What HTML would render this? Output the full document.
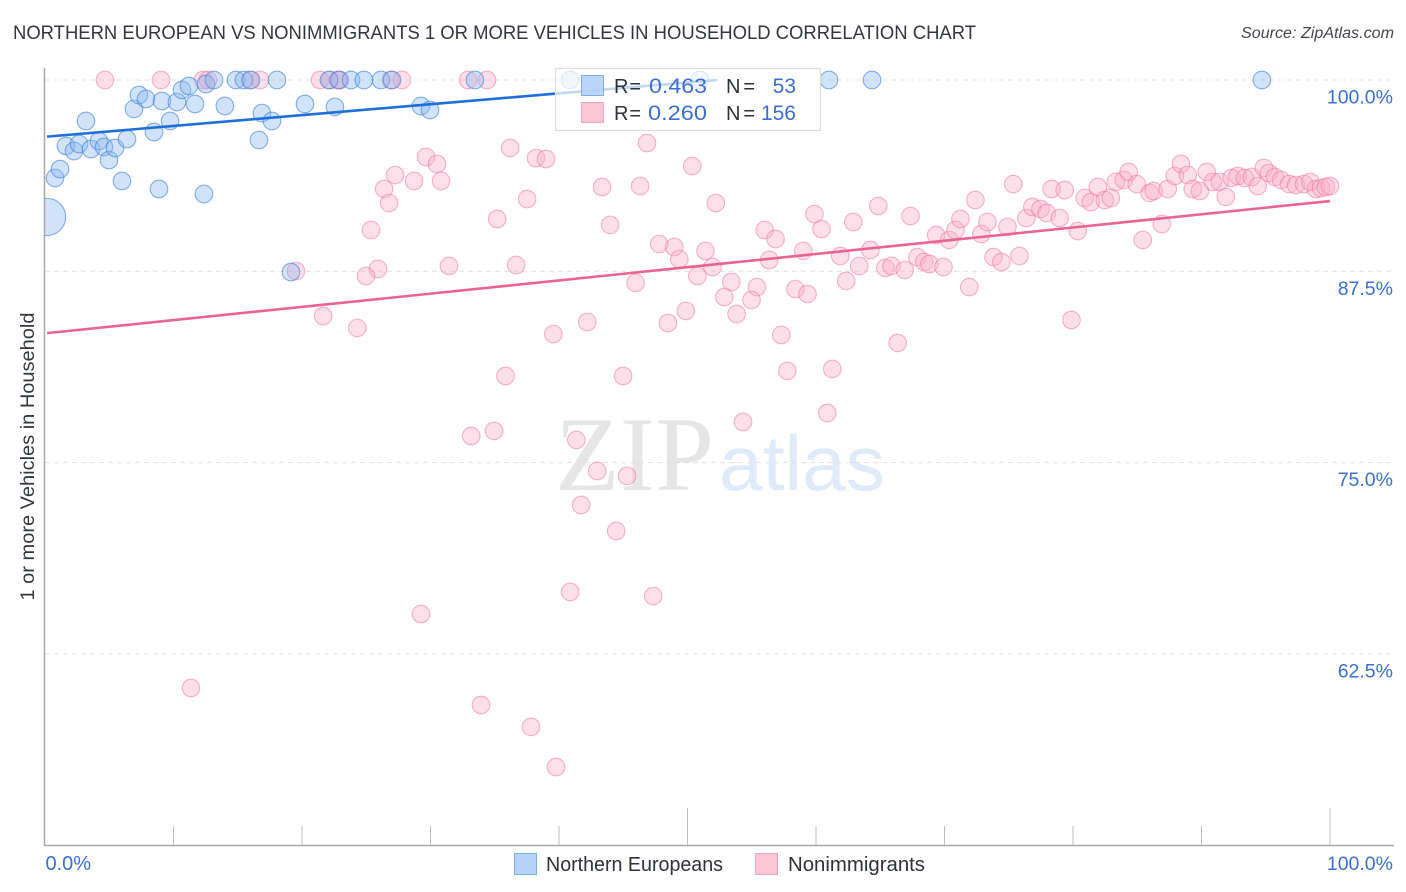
<!DOCTYPE html>
<html lang="en">
<head>
<meta charset="utf-8">
<title>Northern European vs Nonimmigrants chart</title>
<style>
html,body{margin:0;padding:0;background:#fff;}
svg{display:block;font-family:"Liberation Sans",sans-serif;}
</style>
</head>
<body>
<svg id="chart" xmlns="http://www.w3.org/2000/svg" width="1406" height="892" viewBox="0 0 1406 892">
  <defs><clipPath id="plot-clip"><rect x="45" y="60" width="1349" height="785"/></clipPath></defs>
  <rect width="1406" height="892" fill="#fff"/>
  <text x="13" y="39" font-size="19" fill="#33373d" textLength="963" lengthAdjust="spacingAndGlyphs">NORTHERN EUROPEAN VS NONIMMIGRANTS 1 OR MORE VEHICLES IN HOUSEHOLD CORRELATION CHART</text>
  <text x="1241" y="38" font-size="15.5" font-style="italic" fill="#44484e" textLength="153" lengthAdjust="spacingAndGlyphs">Source: ZipAtlas.com</text>
  <g>
    <text x="555" y="490" font-family="'Liberation Serif',serif" font-size="106" fill="#e6e6e6">ZIP</text>
    <text x="719" y="490" font-size="78" fill="#dfebf9" textLength="166" lengthAdjust="spacingAndGlyphs">atlas</text>
  </g>
  <g id="grid"></g>
  <g id="pink-points" clip-path="url(#plot-clip)"></g>
  <g id="blue-points" clip-path="url(#plot-clip)"></g>
  <g id="trends"></g>
  <g id="axes"></g>
  <text transform="translate(34,456.5) rotate(-90)" font-size="19.5" fill="#33373d" text-anchor="middle" textLength="288" lengthAdjust="spacingAndGlyphs">1 or more Vehicles in Household</text>

  <g>
    <rect x="555.5" y="68.5" width="265" height="62" fill="#fff" fill-opacity="0.72" stroke="#dcdcdc" stroke-width="1.2"/>
    <rect x="581.5" y="75.5" width="22" height="20" fill="#b5d2f8" fill-opacity="0.9" stroke="#7fabe6"/>
    <rect x="581.5" y="102.5" width="22" height="20" fill="#fcc5d6" stroke="#f0a3bd"/>
    <text x="614" y="93" font-size="20" fill="#2e3238" textLength="27" lengthAdjust="spacing">R =</text>
    <text x="649" y="93" font-size="21" fill="#3b6fd4" textLength="58" lengthAdjust="spacingAndGlyphs">0.463</text>
    <text x="726" y="93" font-size="20" fill="#2e3238" textLength="29" lengthAdjust="spacing">N =</text>
    <text x="796" y="93" font-size="21" fill="#3b6fd4" text-anchor="end">53</text>
    <text x="614" y="120" font-size="20" fill="#2e3238" textLength="27" lengthAdjust="spacing">R =</text>
    <text x="648" y="120" font-size="21" fill="#3b6fd4" textLength="59" lengthAdjust="spacingAndGlyphs">0.260</text>
    <text x="726" y="120" font-size="20" fill="#2e3238" textLength="29" lengthAdjust="spacing">N =</text>
    <text x="796" y="120" font-size="21" fill="#3b6fd4" text-anchor="end">156</text>
  </g>

  <g>
    <rect x="514.5" y="853.5" width="22" height="21" fill="#b5d2f8" stroke="#7fabe6"/>
    <text x="546" y="871" font-size="20" fill="#2e3238" textLength="177" lengthAdjust="spacingAndGlyphs">Northern Europeans</text>
    <rect x="755.5" y="853.5" width="22" height="21" fill="#fcc5d6" stroke="#f0a3bd"/>
    <text x="788" y="871" font-size="20" fill="#2e3238" textLength="137" lengthAdjust="spacingAndGlyphs">Nonimmigrants</text>
  </g>
</svg>
<script>
const yTicks = [100, 87.5, 75, 62.5];
const xTicks = [0, 10, 20, 30, 40, 50, 60, 70, 80, 90, 100];
const xEndLabels = [0, 100];

const blueX = [0.16,0.78,1.17,1.63,2.26,2.65,3.19,3.58,4.2,4.59,4.98,5.45,5.99,6.38,6.92,7.31,7.86,8.48,8.87,9.1,9.73,10.27,10.66,11.2,11.67,12.37,12.53,13.15,14.0,14.86,15.48,16.03,16.88,16.65,17.66,18.05,20.23,19.14,22.1,22.56,22.87,23.81,24.82,26.14,27.0,29.26,29.96,33.46,40.85,50.97,61.01,64.36,94.7];
const blueY = [91.05,93.6,94.18,95.69,95.36,95.82,97.32,95.49,96.01,95.62,94.77,95.56,93.4,96.14,98.11,99.02,98.76,96.6,92.88,98.63,97.32,98.56,99.35,99.61,98.43,92.55,99.74,100,98.3,100,100,100,97.84,96.08,97.32,100,98.43,87.45,100,98.24,100,100,100,100,100,98.3,98.04,100,100,100,100,100,100];
const outlierIndex = 0;

const pinkX = [4.67,9.03,12.3,12.68,15.95,16.73,21.4,22.18,22.8,22.96,26.92,27.78,32.92,34.4,19.53,25.37,25.91,24.98,31.44,29.65,30.5,27.24,28.72,30.82,26.39,26.78,36.2,38.21,38.99,46.85,50.37,43.35,46.31,37.52,35.19,43.98,52.2,36.67,47.8,48.97,49.36,51.4,51.95,50.77,45.96,53.41,55.4,52.87,54.98,58.4,59.34,56.0,56.85,59.88,60.43,62.9,64.85,67.35,56.36,59.01,61.89,64.23,63.36,62.35,65.4,65.87,66.9,67.89,68.43,68.82,69.92,69.35,70.37,70.85,71.24,72.4,75.35,72.87,73.34,74.9,73.81,74.43,75.83,71.93,76.37,76.84,77.47,77.95,78.96,78.34,79.35,80.37,80.92,81.39,81.93,82.47,82.94,83.33,83.95,84.33,84.96,85.97,86.28,87.37,85.43,86.91,87.92,88.4,88.93,89.32,89.87,90.41,90.88,91.42,91.89,92.35,92.82,93.37,93.91,94.38,94.85,95.24,95.71,96.19,96.82,97.36,97.98,98.47,98.91,99.3,99.68,100,21.65,24.3,39.56,42.2,48.48,49.87,53.82,57.3,66.36,79.88,35.84,44.99,57.77,61.27,60.88,54.32,33.17,34.95,41.35,42.97,45.3,41.72,44.45,40.87,47.33,29.26,11.36,33.93,37.82,39.77];
const pinkY = [100,100,100,100,100,100,100,100,100,100,100,100,100,100,87.52,90.2,87.65,87.19,87.85,94.97,94.51,93.79,93.4,93.4,92.88,91.96,95.56,94.9,94.84,95.88,94.38,93.01,93.07,92.22,90.92,90.53,91.96,87.91,89.28,89.09,88.3,88.83,87.78,87.19,86.74,86.8,86.47,85.82,85.63,86.34,86.02,90.2,89.61,91.24,90.26,90.72,91.77,91.11,88.24,88.83,88.5,88.89,87.85,86.87,87.72,87.85,87.59,88.43,88.11,87.98,87.78,89.87,89.55,90.2,90.92,92.16,93.2,89.94,90.72,90.4,88.43,88.11,88.5,86.47,90.98,91.7,91.57,91.31,90.98,92.88,92.81,90.13,92.29,92.03,93.01,92.16,92.29,93.34,93.47,93.99,93.2,92.62,92.75,92.88,89.55,90.59,93.73,94.51,93.79,92.88,92.75,93.99,93.34,93.34,92.36,93.6,93.73,93.6,93.66,93.07,94.25,93.92,93.66,93.47,93.2,93.14,93.2,93.34,92.88,92.94,93.01,93.07,84.58,83.8,83.4,84.19,84.12,84.91,84.71,83.34,82.82,84.32,80.66,80.66,80.99,81.12,78.24,77.65,76.74,77.07,76.48,74.45,74.13,72.23,70.53,66.55,66.28,65.11,60.27,59.16,57.73,55.11];

const blueTrendX = [0.16, 52.3];
const blueTrendY = [96.3, 100];
const pinkTrendX = [0.16, 100];
const pinkTrendY = [83.46, 92.09];

const NS = 'http://www.w3.org/2000/svg';
function xPx(v) { return 45 + v * 12.85; }
function yPx(v) { return 80 + (100 - v) * 15.304; }
function make(parent, tag, attrs, text) {
  const el = document.createElementNS(NS, tag);
  for (const k in attrs) el.setAttribute(k, attrs[k]);
  if (text !== undefined) el.textContent = text;
  parent.appendChild(el);
  return el;
}
const gridG = document.getElementById('grid');
const axesG = document.getElementById('axes');
const pinkG = document.getElementById('pink-points');
const blueG = document.getElementById('blue-points');
const trendG = document.getElementById('trends');

yTicks.forEach(function (t) {
  const line = make(gridG, 'line', {x1: 45, x2: 1394, y1: yPx(t), y2: yPx(t), stroke: '#e0e0e0', 'stroke-width': 1, 'stroke-dasharray': '5 4'});
  
  
  const label = make(axesG, 'text', {x: 1393, y: yPx(t) + 23.5, 'font-size': 19.5, fill: '#3b6fd4', 'text-anchor': 'end'}, t.toFixed(1) + '%');
  
  
});

const leftAxis = make(axesG, 'line', {x1: 44.5, x2: 44.5, y1: 68, y2: 846, stroke: '#a8a8a8', 'stroke-width': 1.5});


const bottomAxis = make(axesG, 'line', {x1: 44, x2: 1394, y1: 845.5, y2: 845.5, stroke: '#a8a8a8', 'stroke-width': 1.5});



xTicks.forEach(function (t) {
  if (t === 0) return;
  const long = t === 50 || t === 100;
  const tick = make(axesG, 'line', {x1: xPx(t), x2: xPx(t), y1: long ? 808 : 826, y2: 845, stroke: '#bdbdbd', 'stroke-width': 1});
  
  
});
xEndLabels.forEach(function (t) {
  const isZero = t === 0;
  const label = make(axesG, 'text', {x: isZero ? 45.5 : 1393, y: 870, 'font-size': isZero ? 20 : 19.5, fill: '#3b6fd4', 'text-anchor': isZero ? 'start' : 'end'}, t.toFixed(1) + '%');
  
  
});

pinkX.forEach(function (x, i) {
  const c = make(pinkG, 'circle', {cx: xPx(x), cy: yPx(pinkY[i]), r: 8.8, fill: 'rgba(250,175,200,0.4)', stroke: 'rgba(236,120,160,0.55)', 'stroke-width': 1.1});
  
  
});
blueX.forEach(function (x, i) {
  const c = make(blueG, 'circle', {cx: xPx(x), cy: yPx(blueY[i]), r: i === outlierIndex ? 18.6 : 8.8, fill: 'rgba(140,185,240,0.4)', stroke: 'rgba(60,125,215,0.6)', 'stroke-width': 1.1});
  
  
});

const blueLine = make(trendG, 'line', {x1: xPx(blueTrendX[0]), y1: yPx(blueTrendY[0]), x2: xPx(blueTrendX[1]), y2: yPx(blueTrendY[1]), stroke: '#1f6fd8', 'stroke-width': 2.6});


const pinkLine = make(trendG, 'line', {x1: xPx(pinkTrendX[0]), y1: yPx(pinkTrendY[0]), x2: xPx(pinkTrendX[1]), y2: yPx(pinkTrendY[1]), stroke: '#e9648f', 'stroke-width': 2.6});


</script>
</body>
</html>
